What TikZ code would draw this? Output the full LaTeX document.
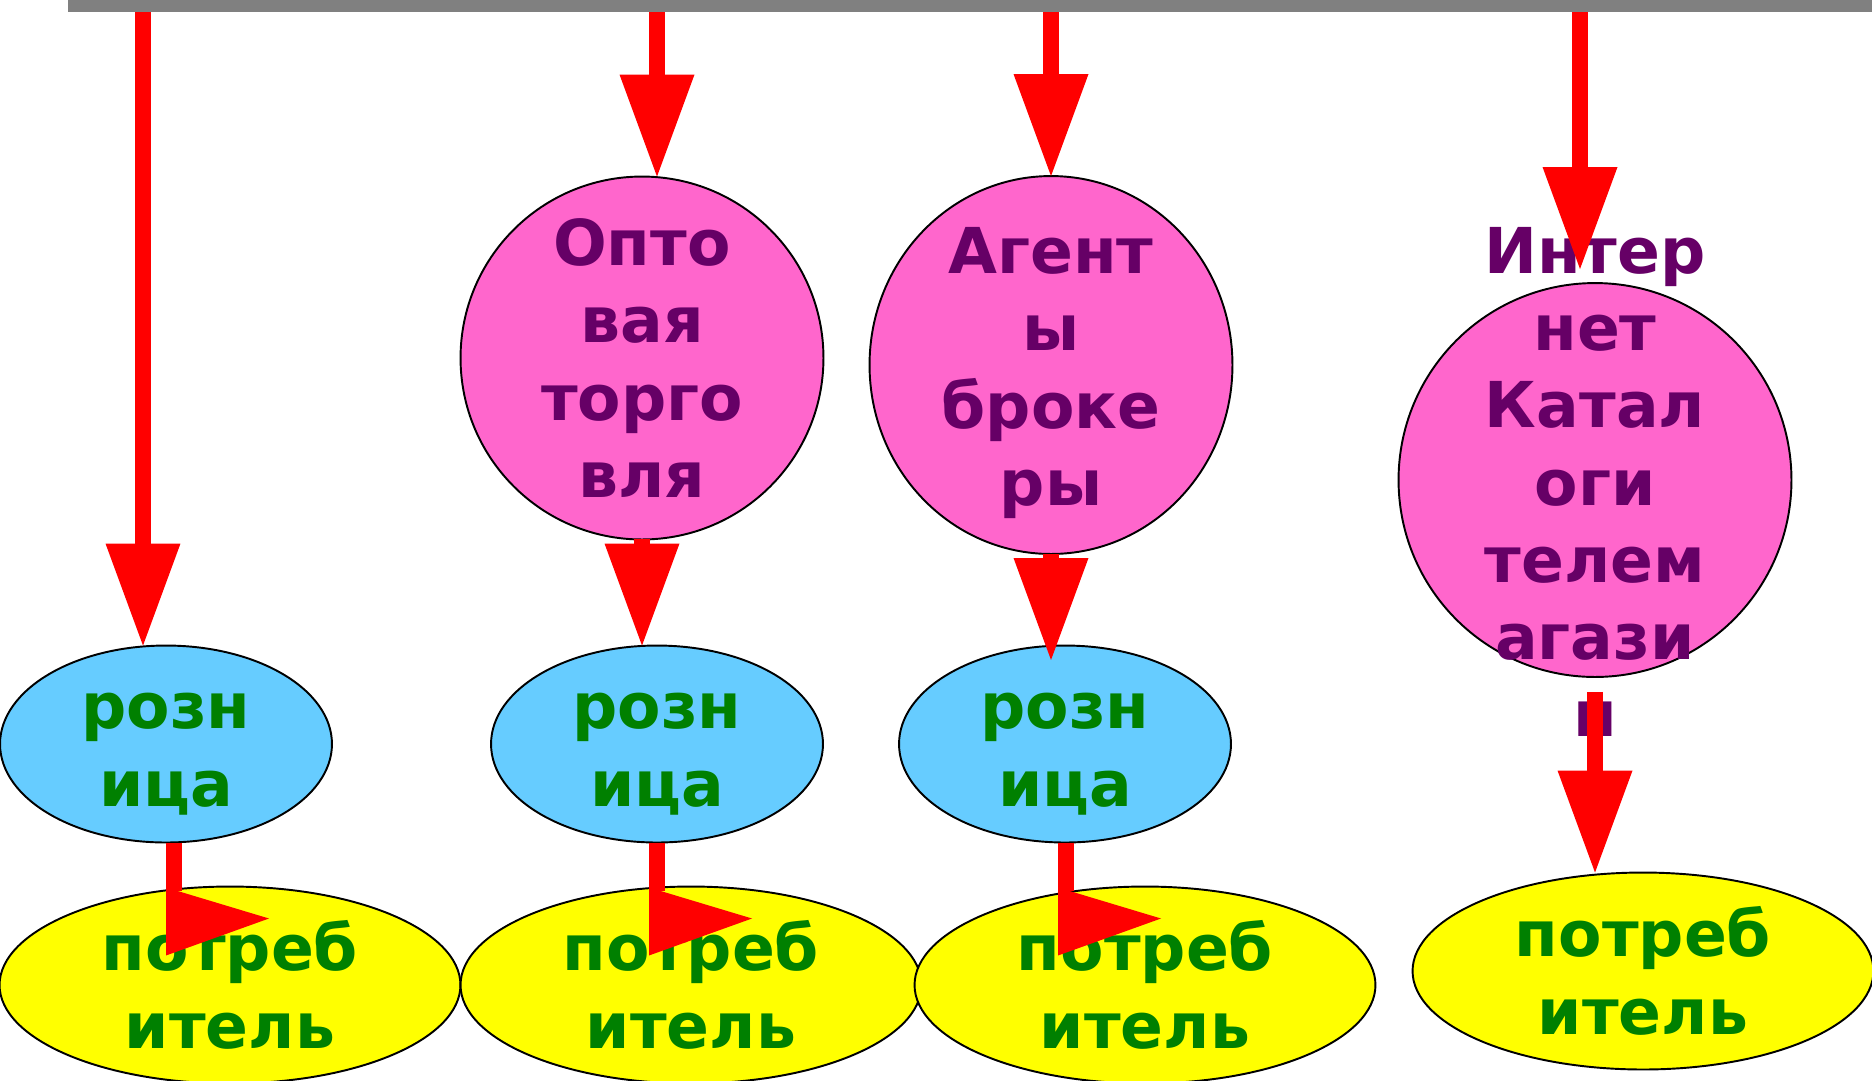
\documentclass[tikz,border=0pt]{standalone}
\usepackage{fontspec}
\setmainfont{DejaVu Sans}
\usetikzlibrary{shapes.geometric,arrows.meta,calc}
\definecolor{hubpink}{HTML}{FF66CC}
\definecolor{shopblue}{HTML}{66CCFF}
\definecolor{buyeryellow}{HTML}{FFFF00}
\definecolor{txtgreen}{HTML}{008000}
\definecolor{txtpurple}{HTML}{660066}
\tikzset{
  hub/.style={ellipse, draw, line width=1.1pt, fill=hubpink, inner sep=0pt, outer sep=0pt},
  shop/.style={ellipse, draw, line width=1.1pt, fill=shopblue, inner sep=0pt, outer sep=0pt, minimum width=6.64cm, minimum height=3.94cm},
  buyer/.style={ellipse, draw, line width=1.1pt, fill=buyeryellow, inner sep=0pt, outer sep=0pt, minimum width=9.22cm, minimum height=3.94cm},
  hubtxt/.style={align=center, text=txtpurple, font=\bfseries\fontsize{36}{44}\selectfont},
  shoptxt/.style={align=center, text=txtgreen, font=\bfseries\fontsize{36}{44}\selectfont},
  flow/.style={-{Triangle[width=1.5cm, length=2.04cm, line width=0pt]}, red, line width=0.31cm},
  stub/.style={red, line width=0.33cm}
}
\begin{document}
\begin{tikzpicture}[x=0.02cm, y=-0.02cm]
  \useasboundingbox (0,0) rectangle (1872,1080);
  \node[fill=gray, inner sep=0pt, minimum width=36.08cm, minimum height=0.24cm] (bar) at (970,6) {};
  \coordinate (s1) at ( 143,12);
  \coordinate (s2) at ( 657,12);
  \coordinate (s3) at (1051,12);
  \coordinate (s4) at (1580,12);
  \coordinate (t4) at (1580,269);
  % middle level
  \node[hub, minimum width=7.26cm, minimum height=7.26cm] (opt)   at ( 642,358) {};
  \node[hub, minimum width=7.26cm, minimum height=7.56cm] (agent) at (1051,365) {};
  \node[hub, minimum width=7.86cm, minimum height=7.88cm] (net)   at (1595,480) {};
  \node[shop] (r1) at ( 166,744) {};
  \node[shop] (r2) at ( 657,744) {};
  \node[shop] (r3) at (1065,744) {};
  % bottom level
  \node[buyer] (p1) at ( 230,985) {};
  \node[buyer] (p2) at ( 691,985) {};
  \node[buyer] (p3) at (1145,985) {};
  \node[buyer] (p4) at (1643,971) {};
  % texts
  \node[hubtxt] (optT)   at (opt)   {Опто\\вая\\торго\\вля};
  \node[hubtxt] (agentT) at ($(agent)+(0,8)$) {Агент\\ы\\броке\\ры};
  \node[hubtxt] (netT)   at ($(net)+(0,2)$)   {Интер\\нет\\Катал\\оги\\телем\\агази\\н};
  \node[shoptxt] (r1T) at ($(r1)+(0,10)$) {розн\\ица};
  \node[shoptxt] (r2T) at ($(r2)+(0,10)$) {розн\\ица};
  \node[shoptxt] (r3T) at ($(r3)+(0,10)$) {розн\\ица};
  \node[shoptxt] (p1T) at (p1) {потреб\\итель};
  \node[shoptxt] (p2T) at (p2) {потреб\\итель};
  \node[shoptxt] (p3T) at (p3) {потреб\\итель};
  \node[shoptxt] (p4T) at (p4) {потреб\\итель};
  % arrows
  \draw[flow] (s1) -- (s1 |- r1.north);
  \draw[flow] (s2) -- (s2 |- opt.north);
  \draw[flow] (s3) -- (agent.north);
  \draw[flow] (s4) -- (t4);
  \draw[flow] (opt.south) -- (opt.south |- r2.north);
  \draw[flow] (agent.south) -- ++(0,106);
  \draw[flow] ($(net.south)+(0,15)$) -- (net.south |- p4.north);
  \draw[stub] ($(r1.south)+(8,0)$) -- ++(0,48);
  \fill[red] ($(r1.south)+(0,45)$) -- ++(103,31) -- ++(-103,37) -- cycle;
  \draw[stub] (r2.south) -- ++(0,48);
  \fill[red] ($(r2.south)+(-8,45)$) -- ++(103,31) -- ++(-103,37) -- cycle;
  \draw[stub] ($(r3.south)+(1,0)$) -- ++(0,48);
  \fill[red] ($(r3.south)+(-7,45)$) -- ++(103,31) -- ++(-103,37) -- cycle;
\end{tikzpicture}
\end{document}
